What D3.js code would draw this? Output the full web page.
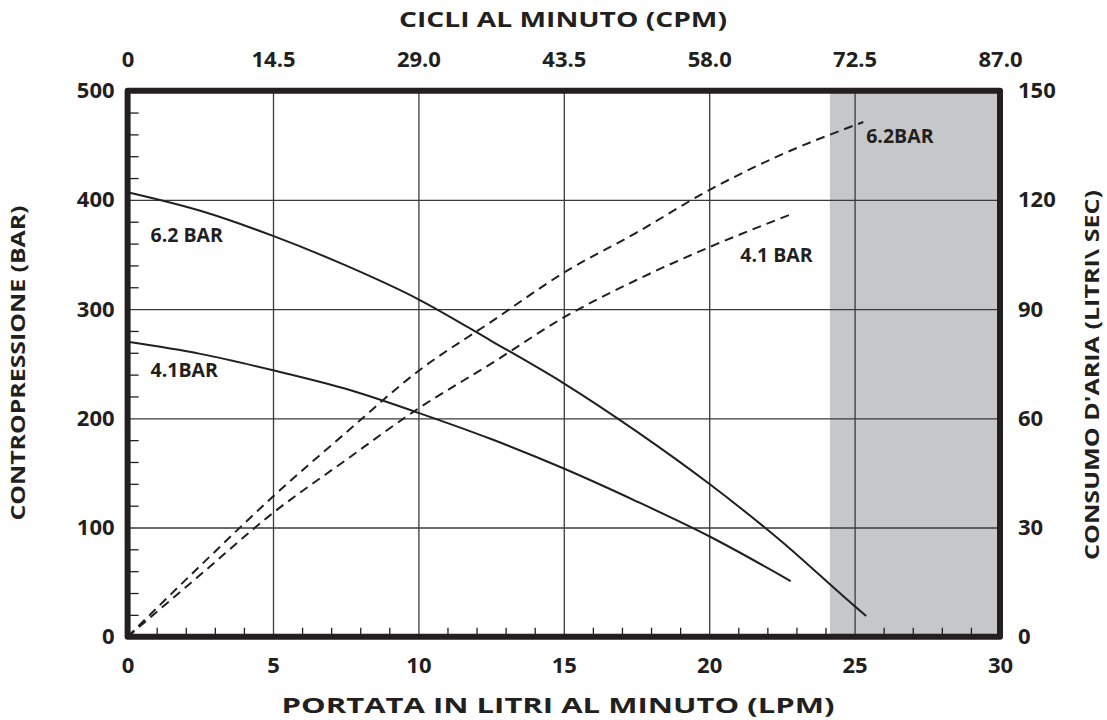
<!DOCTYPE html>
<html><head><meta charset="utf-8">
<script src="https://cdn.jsdelivr.net/npm/d3@7"></script>
<style>
html,body{margin:0;padding:0;background:#fff;}
text{font-family:"Open Sans",sans-serif;font-weight:700;fill:#231f20;}
</style></head>
<body>
<svg id="chart" width="1107" height="720"></svg>
<script>
// ---- data ----
const bottomTicks = [0, 5, 10, 15, 20, 25, 30];
const topTickLabels = ["0", "14.5", "29.0", "43.5", "58.0", "72.5", "87.0"];
const leftTicks = [0, 100, 200, 300, 400, 500];
const rightTicks = [0, 30, 60, 90, 120, 150];
const shadedFrom = 24.15;
// pressure curves (left axis, BAR)
const press62 = [[0,407],[2.5,390],[5,367],[7.5,340],[10,309],[12.5,271],[15,232],[17.5,188],[20,140],[22.5,87],[25,28],[25.4,19]];
const press41 = [[0,270],[2.5,259],[5,244],[7.5,227],[10,205],[12.5,181],[15,154],[17.5,124],[20,92],[22.8,51]];
// air consumption curves (right axis)
const air62 = [[0,0],[2.5,19.5],[5,38.5],[7.5,56],[10,73],[12.5,86.5],[15,100],[17.5,111],[20,122.7],[22.5,132.5],[25,140.5],[25.3,141.4]];
const air41 = [[0,0],[2.5,17],[5,34],[7.5,48.5],[10,62.7],[12.5,75],[15,87.7],[17.5,98],[20,107],[22.8,116]];
const curveLabels = [
  {text:"6.2 BAR", x:0.79, y:361},
  {text:"4.1BAR",  x:0.79, y:238},
  {text:"6.2BAR",  x:25.4, y:452},
  {text:"4.1 BAR", x:21.07, y:343}
];

// ---- layout ----
const svg = d3.select("#chart");
const L = 127.6, R = 1000, T = 90.7, B = 636.7;
const x = d3.scaleLinear().domain([0,30]).range([L,R]);
const yL = d3.scaleLinear().domain([0,500]).range([B,T]);
const yR = d3.scaleLinear().domain([0,150]).range([B,T]);
const ink = "#231f20";

// shaded region
svg.append("rect").attr("x", x(shadedFrom)).attr("y", T)
  .attr("width", x(30)-x(shadedFrom)).attr("height", B-T).attr("fill", "#c6c7c9");

// grid
const gx = svg.append("g").attr("transform",`translate(0,${B})`)
  .call(d3.axisBottom(x).tickValues([5,10,15,20,25]).tickSize(-(B-T)).tickFormat(""));
const gy = svg.append("g").attr("transform",`translate(${L},0)`)
  .call(d3.axisLeft(yL).tickValues([100,200,300,400]).tickSize(-(R-L)).tickFormat(""));
[gx,gy].forEach(g=>{g.select(".domain").remove(); g.selectAll("line").attr("stroke","#3a3a3a").attr("stroke-width",1.3);});

// minor ticks
const minorX = d3.range(1,30).filter(v=>v%5!==0);
const mx = svg.append("g").attr("transform",`translate(0,${B})`)
  .call(d3.axisBottom(x).tickValues(minorX).tickSize(-9).tickFormat(""));
const minorY = d3.range(20,500,20).filter(v=>v%100!==0);
const my = svg.append("g").attr("transform",`translate(${L},0)`)
  .call(d3.axisLeft(yL).tickValues(minorY).tickSize(-11).tickFormat(""));
[mx,my].forEach(g=>{g.select(".domain").remove(); g.selectAll("line").attr("stroke",ink).attr("stroke-width",1.3);});

// curves
const line = (ys) => d3.line().x(d=>x(d[0])).y(d=>ys(d[1])).curve(d3.curveMonotoneX);
const curves = svg.append("g").attr("fill","none").attr("stroke",ink).attr("stroke-width",2);
curves.append("path").attr("d", line(yL)(press62));
curves.append("path").attr("d", line(yL)(press41));
curves.append("path").attr("d", line(yR)(air62)).attr("stroke-dasharray","9,6");
curves.append("path").attr("d", line(yR)(air41)).attr("stroke-dasharray","9,6");

// frame
svg.append("rect").attr("x",L).attr("y",T).attr("width",R-L).attr("height",B-T)
  .attr("fill","none").attr("stroke",ink).attr("stroke-width",6).attr("stroke-linejoin","round");

// axes labels
function styleAxis(g){ g.select(".domain").remove(); g.selectAll("line").remove();
  g.selectAll("text").attr("font-family",null).attr("font-size",null).style("font-size","22px").attr("fill",ink); }
svg.append("g").attr("transform",`translate(${L},0)`)
  .call(d3.axisLeft(yL).tickValues(leftTicks).tickSize(0).tickPadding(13)).call(styleAxis);
svg.append("g").attr("transform",`translate(${R},0)`)
  .call(d3.axisRight(yR).tickValues(rightTicks).tickSize(0).tickPadding(18)).call(styleAxis);
svg.append("g").attr("transform",`translate(0,${B})`)
  .call(d3.axisBottom(x).tickValues(bottomTicks).tickSize(0).tickPadding(21)).call(styleAxis);
svg.append("g").attr("transform",`translate(0,${T})`)
  .call(d3.axisTop(x).tickValues(bottomTicks).tickFormat((d,i)=>topTickLabels[i]).tickSize(0).tickPadding(24)).call(styleAxis);

// curve labels
svg.append("g").selectAll("text").data(curveLabels).join("text")
  .attr("x", d=>x(d.x)).attr("y", d=>yL(d.y)).style("font-size","19.5px").text(d=>d.text);

// titles
svg.append("text").attr("x",563).attr("y",27).attr("text-anchor","middle").style("font-size","21px")
  .attr("textLength",328).attr("lengthAdjust","spacingAndGlyphs").text("CICLI AL MINUTO (CPM)");
svg.append("text").attr("x",558).attr("y",713).attr("text-anchor","middle").style("font-size","22px")
  .attr("textLength",553).attr("lengthAdjust","spacingAndGlyphs").text("PORTATA IN LITRI AL MINUTO (LPM)");
svg.append("text").attr("transform","translate(25,363) rotate(-90)").attr("text-anchor","middle").style("font-size","19px")
  .attr("textLength",315).attr("lengthAdjust","spacingAndGlyphs").text("CONTROPRESSIONE  (BAR)");
svg.append("text").attr("transform","translate(1099,375) rotate(-90)").attr("text-anchor","middle").style("font-size","19px")
  .attr("textLength",370).attr("lengthAdjust","spacingAndGlyphs").text("CONSUMO D'ARIA (LITRI\\ SEC)");
</script>
</body></html>
